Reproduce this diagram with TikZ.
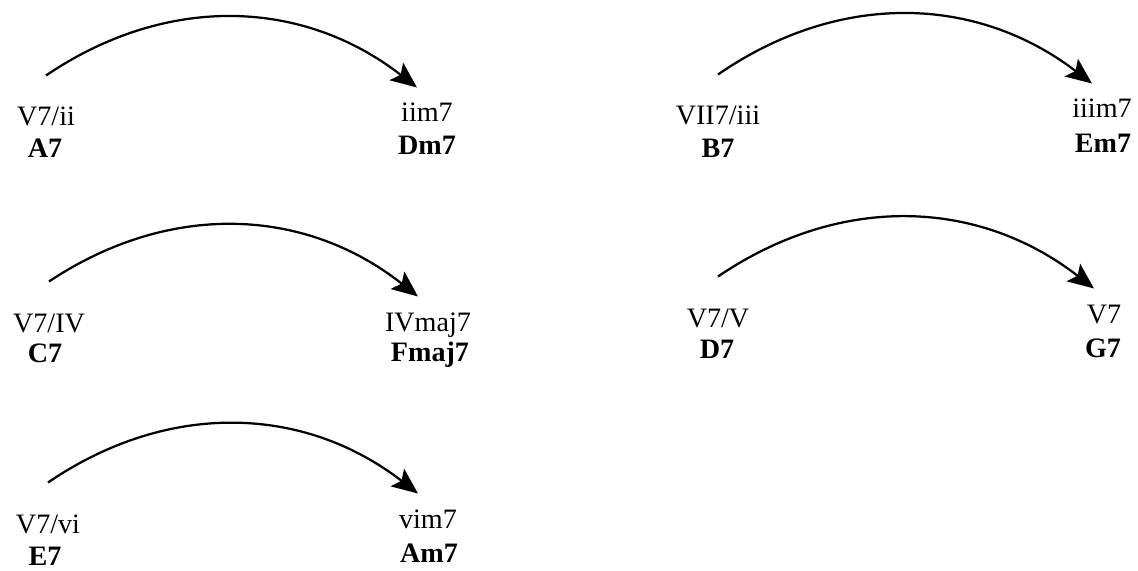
\documentclass[tikz,border=0pt]{standalone}
\usepackage{fontspec}
\setmainfont{Liberation Serif}
\usetikzlibrary{arrows.meta}

\begin{document}
\begin{tikzpicture}[x=0.025cm,y=-0.025cm,>={Stealth[length=6.5mm,width=5.5mm,inset=1.3mm]},
  every node/.style={anchor=base,inner sep=0pt,text height=4.8mm,text depth=1.4mm,
    font=\fontsize{20}{24}\selectfont},
  ch/.style={font=\fontsize{20}{24}\selectfont\bfseries},
  prog/.style={->,line width=1.6pt,bend left=36}]
\useasboundingbox (0,0) rectangle (1138,571);
\node (A7n) at (46,126) {V7/ii};
\node[ch] (A7) at (45,158) {A7};
\node (Dm7n) at (427,122) {iim7};
\node[ch] (Dm7) at (427,155) {Dm7};
\node (B7n) at (718,125) {VII7/iii};
\node[ch] (B7) at (718,158) {B7};
\node (Em7n) at (1102,118) {iiim7};
\node[ch] (Em7) at (1103,153) {Em7};
\node (C7n) at (49,332) {V7/IV};
\node[ch] (C7) at (45,362) {C7};
\node (Fmaj7n) at (428,331) {IVmaj7};
\node[ch] (Fmaj7) at (430,361) {Fmaj7};
\node (D7n) at (718,327) {V7/V};
\node[ch] (D7) at (717,358) {D7};
\node (G7n) at (1104,323) {V7};
\node[ch] (G7) at (1103,357) {G7};
\node (E7n) at (48,533) {V7/vi};
\node[ch] (E7) at (45,565) {E7};
\node (Am7n) at (428,528) {vim7};
\node[ch] (Am7) at (429,562) {Am7};
\draw[prog] ([yshift=7.75mm]A7n.north) to ([xshift=-2.5mm,yshift=3.75mm]Dm7n.north);
\draw[prog] ([yshift=7.75mm]B7n.north) to ([xshift=-2.5mm,yshift=3.75mm]Em7n.north);
\draw[prog] ([yshift=7.75mm]C7n.north) to ([xshift=-2.5mm,yshift=3.75mm]Fmaj7n.north);
\draw[prog] ([yshift=7.75mm]D7n.north) to ([xshift=-2.5mm,yshift=3.75mm]G7n.north);
\draw[prog] ([yshift=7.75mm]E7n.north) to ([xshift=-2.5mm,yshift=3.75mm]Am7n.north);
\end{tikzpicture}
\end{document}
